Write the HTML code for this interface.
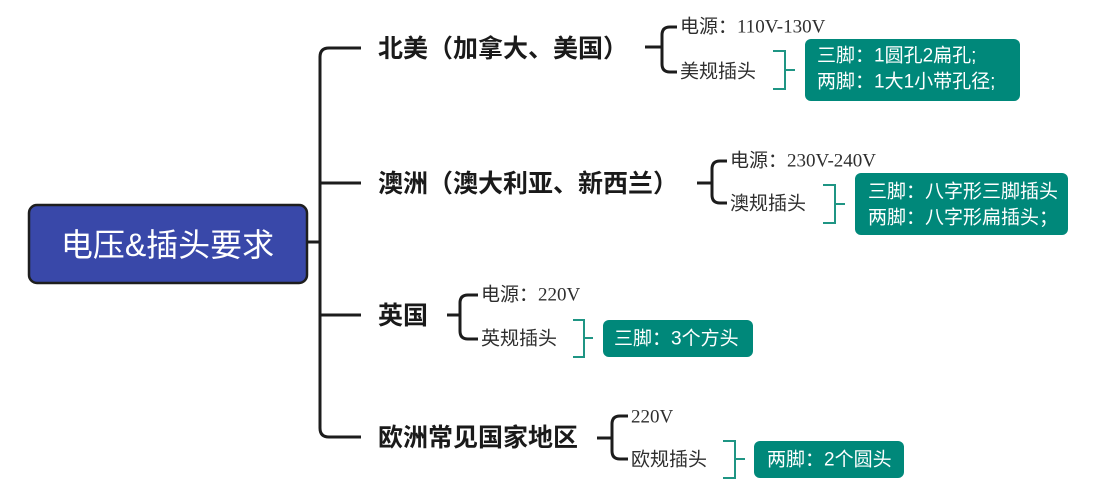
<!DOCTYPE html>
<html>
<head>
<meta charset="utf-8">
<style>
  html, body { margin: 0; padding: 0; background: #ffffff; }
  body { width: 1098px; height: 503px; overflow: hidden; }
  svg { display: block; }
  .root { font-family: "Liberation Sans", "Noto Sans CJK SC", sans-serif; font-size: 32px; fill: #ffffff; }
  .br { font-family: "Liberation Sans", "Noto Sans CJK SC", sans-serif; font-size: 25px; font-weight: bold; fill: #1a1a1a; }
  .sub { font-family: "Liberation Serif", "Noto Sans CJK SC", serif; font-size: 19px; fill: #2e2e2e; }
  .box { font-family: "Liberation Sans", "Noto Sans CJK SC", sans-serif; font-size: 19px; fill: #ffffff; }
</style>
</head>
<body>
<svg width="1098" height="503" viewBox="0 0 1098 503" xmlns="http://www.w3.org/2000/svg">
  <!-- root node -->
  <rect x="29" y="205" width="278" height="78" rx="8" ry="8" fill="#3948a9" stroke="#1e1e1e" stroke-width="2.5"/>
  <text class="root" x="167.5" y="245" text-anchor="middle" dominant-baseline="central">电压&amp;插头要求</text>

  <!-- main trunk -->
  <g fill="none" stroke="#1c1c1c" stroke-width="3" stroke-linecap="butt">
    <path d="M307 242 H320"/>
    <path d="M361 48 H329 Q320 48 320 57 V428 Q320 437 329 437 H361"/>
    <path d="M320 183 H361"/>
    <path d="M320 315 H361"/>

    <!-- sub braces -->
    <path d="M645 47 H662"/>
    <path d="M677 27 H670 Q662 27 662 35 V64 Q662 72 670 72 H677"/>

    <path d="M697 183 H712"/>
    <path d="M727 161 H720 Q712 161 712 169 V195 Q712 203 720 203 H727"/>

    <path d="M447 315 H460"/>
    <path d="M478 295 H468 Q460 295 460 303 V331 Q460 339 468 339 H478"/>

    <path d="M597 438 H612"/>
    <path d="M628 416 H620 Q612 416 612 424 V451 Q612 459 620 459 H628"/>
  </g>

  <!-- teal brackets -->
  <g fill="none" stroke="#1f9584" stroke-width="2">
    <path d="M773 51 H785 V89 H773 M785 70 H795"/>
    <path d="M823 185 H835 V223 H823 M835 204 H845"/>
    <path d="M573 320 H584 V357 H573 M584 338 H593"/>
    <path d="M723 441 H735 V478 H723 M735 459 H745"/>
  </g>

  <!-- branch labels -->
  <text class="br" x="378" y="49" dominant-baseline="central">北美（加拿大、美国）</text>
  <text class="br" x="378" y="184" dominant-baseline="central">澳洲（澳大利亚、新西兰）</text>
  <text class="br" x="378" y="316" dominant-baseline="central">英国</text>
  <text class="br" x="378" y="438" dominant-baseline="central">欧洲常见国家地区</text>

  <!-- sub labels -->
  <text class="sub" x="680" y="27" dominant-baseline="central">电源：110V-130V</text>
  <text class="sub" x="680" y="72" dominant-baseline="central">美规插头</text>

  <text class="sub" x="730" y="161" dominant-baseline="central">电源：230V-240V</text>
  <text class="sub" x="730" y="204" dominant-baseline="central">澳规插头</text>

  <text class="sub" x="481" y="295" dominant-baseline="central">电源：220V</text>
  <text class="sub" x="481" y="339" dominant-baseline="central">英规插头</text>

  <text class="sub" x="631" y="417" dominant-baseline="central">220V</text>
  <text class="sub" x="631" y="460" dominant-baseline="central">欧规插头</text>

  <!-- teal boxes -->
  <rect x="805" y="39" width="215" height="62" rx="6" ry="6" fill="#00887a"/>
  <text class="box" x="817" y="56" dominant-baseline="central">三脚：1圆孔2扁孔;</text>
  <text class="box" x="817" y="82" dominant-baseline="central">两脚：1大1小带孔径;</text>

  <rect x="855" y="173" width="213" height="62" rx="6" ry="6" fill="#00887a"/>
  <text class="box" x="868" y="192" dominant-baseline="central">三脚：八字形三脚插头</text>
  <text class="box" x="868" y="218" dominant-baseline="central">两脚：八字形扁插头；</text>

  <rect x="603" y="320" width="150" height="37" rx="6" ry="6" fill="#00887a"/>
  <text class="box" x="614" y="339" dominant-baseline="central">三脚：3个方头</text>

  <rect x="754" y="441" width="150" height="37" rx="6" ry="6" fill="#00887a"/>
  <text class="box" x="767" y="460" dominant-baseline="central">两脚：2个圆头</text>
</svg>
</body>
</html>
